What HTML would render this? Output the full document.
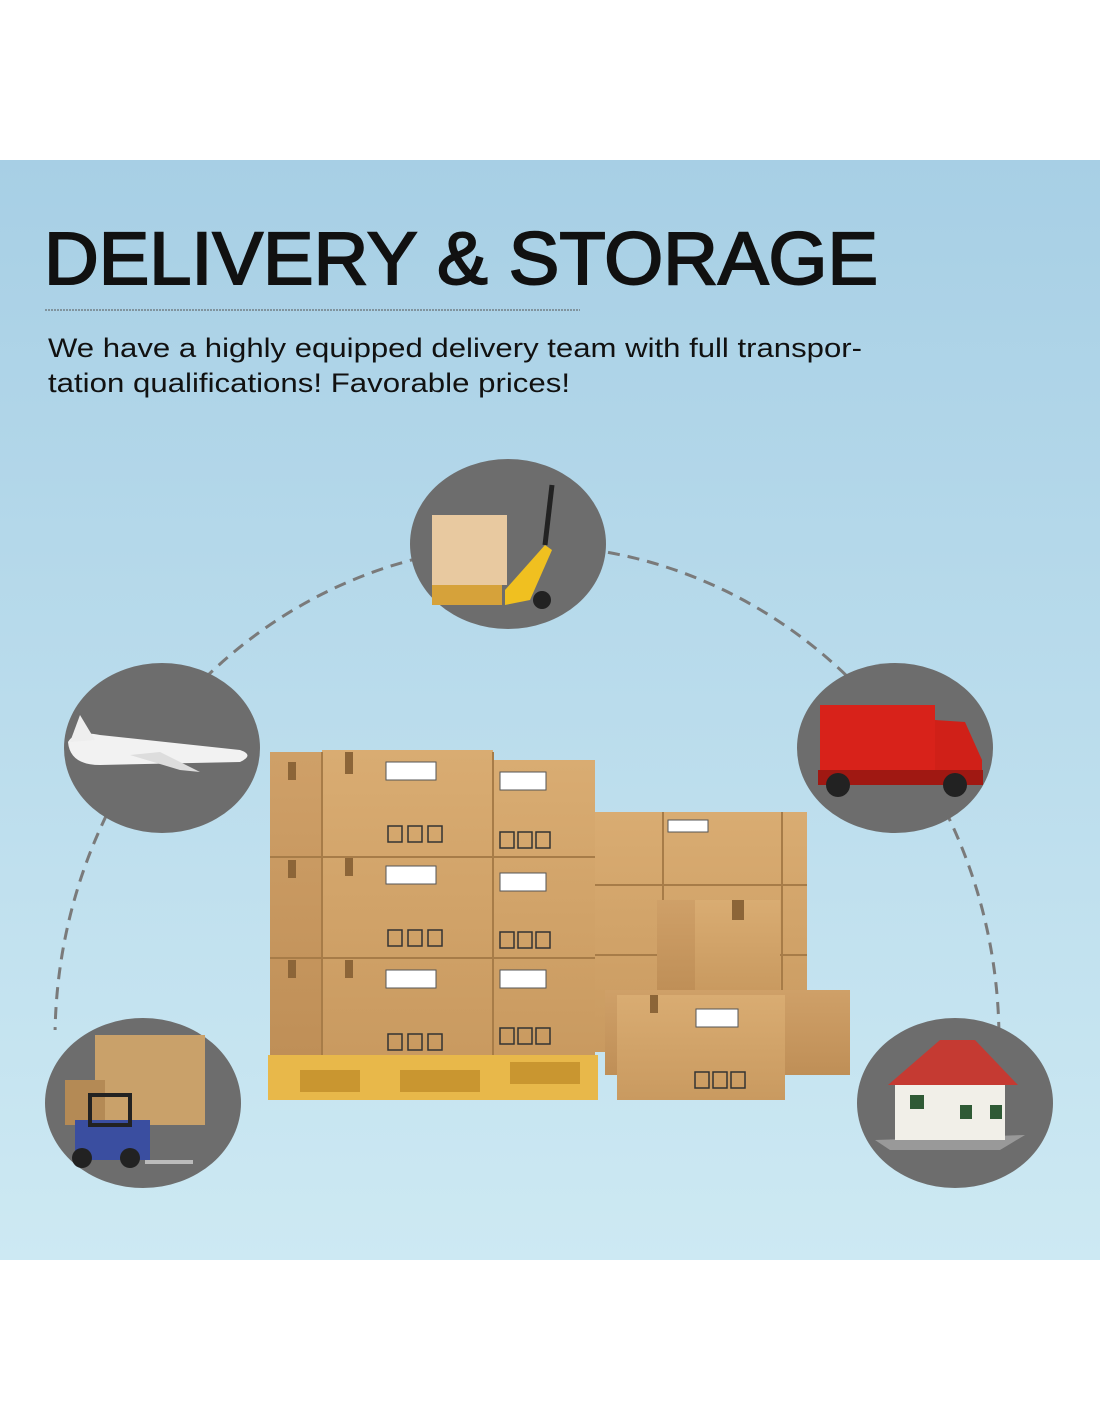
<!DOCTYPE html>
<html><head><meta charset="utf-8"><style>
html,body{margin:0;padding:0;width:1100px;height:1422px;background:#fff;overflow:hidden}
svg{display:block}
</style></head><body>
<svg width="1100" height="1422" viewBox="0 0 1100 1422" xmlns="http://www.w3.org/2000/svg">
<defs>
<linearGradient id="bg" x1="0" y1="0" x2="0" y2="1">
<stop offset="0" stop-color="#a7cfe5"/><stop offset="1" stop-color="#cde9f3"/>
</linearGradient>
<linearGradient id="box" x1="0" y1="0" x2="0" y2="1">
<stop offset="0" stop-color="#d9ac72"/><stop offset="1" stop-color="#c99a60"/>
</linearGradient>
<linearGradient id="side" x1="0" y1="0" x2="0" y2="1">
<stop offset="0" stop-color="#cfa068"/><stop offset="1" stop-color="#bf8f57"/>
</linearGradient>
<clipPath id="top"><rect x="0" y="0" width="1100" height="1030"/></clipPath>
</defs>
<rect x="0" y="160" width="1100" height="1100" fill="url(#bg)"/>
<text x="44" y="284" font-family="Liberation Sans, sans-serif" font-size="74" fill="#111" stroke="#111" stroke-width="2" textLength="834" lengthAdjust="spacingAndGlyphs">DELIVERY &amp; STORAGE</text>
<line x1="45" y1="310" x2="580" y2="310" stroke="#555" stroke-width="1" stroke-dasharray="2,1"/>
<text x="48" y="357" font-family="Liberation Sans, sans-serif" font-size="27" fill="#111" textLength="814" lengthAdjust="spacingAndGlyphs">We have a highly equipped delivery team with full transpor-</text>
<text x="48" y="392" font-family="Liberation Sans, sans-serif" font-size="27" fill="#111" textLength="522" lengthAdjust="spacingAndGlyphs">tation qualifications! Favorable prices!</text>
<ellipse cx="527" cy="1040" rx="472" ry="495" fill="none" stroke="#7a7a7a" stroke-width="3" stroke-dasharray="12,8" clip-path="url(#top)"/>
<g>
<rect x="595" y="812" width="212" height="240" fill="url(#box)"/>
<line x1="595" y1="885" x2="807" y2="885" stroke="#a77c48" stroke-width="2"/>
<line x1="595" y1="955" x2="807" y2="955" stroke="#a77c48" stroke-width="2"/>
<line x1="663" y1="812" x2="663" y2="1052" stroke="#a77c48" stroke-width="2"/>
<line x1="782" y1="812" x2="782" y2="1052" stroke="#a77c48" stroke-width="2"/>
<rect x="268" y="1055" width="330" height="45" fill="#e8b84a"/>
<rect x="300" y="1070" width="60" height="22" fill="#c99630"/>
<rect x="400" y="1070" width="80" height="22" fill="#c99630"/>
<rect x="510" y="1062" width="70" height="22" fill="#c99630"/>
<rect x="270" y="752" width="52" height="303" fill="url(#side)"/>
<rect x="322" y="750" width="171" height="305" fill="url(#box)"/>
<rect x="493" y="760" width="102" height="295" fill="url(#box)"/>
<g stroke="#a77c48" stroke-width="2">
<line x1="270" y1="857" x2="595" y2="857"/><line x1="270" y1="958" x2="595" y2="958"/>
<line x1="322" y1="752" x2="322" y2="1055"/><line x1="493" y1="752" x2="493" y2="1055"/>
</g>
<g fill="#fff" stroke="#555"><rect x="386" y="762" width="50" height="18"/><rect x="386" y="866" width="50" height="18"/><rect x="386" y="970" width="50" height="18"/>
<rect x="500" y="772" width="46" height="18"/><rect x="500" y="873" width="46" height="18"/><rect x="500" y="970" width="46" height="18"/>
<rect x="696" y="1009" width="42" height="18"/><rect x="668" y="820" width="40" height="12"/></g>
<g fill="#8c6538"><rect x="288" y="762" width="8" height="18"/><rect x="345" y="752" width="8" height="22"/><rect x="288" y="860" width="8" height="18"/><rect x="345" y="858" width="8" height="18"/><rect x="288" y="960" width="8" height="18"/><rect x="345" y="960" width="8" height="18"/></g>
<g fill="none" stroke="#333" stroke-width="1.5"><rect x="388" y="826" width="14" height="16"/><rect x="408" y="826" width="14" height="16"/><rect x="428" y="826" width="14" height="16"/>
<rect x="388" y="930" width="14" height="16"/><rect x="408" y="930" width="14" height="16"/><rect x="428" y="930" width="14" height="16"/>
<rect x="388" y="1034" width="14" height="16"/><rect x="408" y="1034" width="14" height="16"/><rect x="428" y="1034" width="14" height="16"/>
<rect x="500" y="832" width="14" height="16"/><rect x="518" y="832" width="14" height="16"/><rect x="536" y="832" width="14" height="16"/>
<rect x="500" y="932" width="14" height="16"/><rect x="518" y="932" width="14" height="16"/><rect x="536" y="932" width="14" height="16"/>
<rect x="500" y="1028" width="14" height="16"/><rect x="518" y="1028" width="14" height="16"/><rect x="536" y="1028" width="14" height="16"/>
<rect x="695" y="1072" width="14" height="16"/><rect x="713" y="1072" width="14" height="16"/><rect x="731" y="1072" width="14" height="16"/></g>
<rect x="657" y="900" width="123" height="90" fill="url(#box)"/>
<rect x="657" y="900" width="38" height="90" fill="url(#side)"/>
<rect x="605" y="990" width="245" height="85" fill="url(#side)"/>
<rect x="617" y="995" width="168" height="105" fill="url(#box)"/>
<rect x="696" y="1009" width="42" height="18" fill="#fff" stroke="#555"/>
<g fill="none" stroke="#333" stroke-width="1.5"><rect x="695" y="1072" width="14" height="16"/><rect x="713" y="1072" width="14" height="16"/><rect x="731" y="1072" width="14" height="16"/></g>
<rect x="650" y="995" width="8" height="18" fill="#8c6538"/>
<rect x="732" y="900" width="12" height="20" fill="#8c6538"/>
</g>
<g fill="#6d6d6d">
<ellipse cx="508" cy="544" rx="98" ry="85"/>
<ellipse cx="162" cy="748" rx="98" ry="85"/>
<ellipse cx="895" cy="748" rx="98" ry="85"/>
<ellipse cx="143" cy="1103" rx="98" ry="85"/>
<ellipse cx="955" cy="1103" rx="98" ry="85"/>
</g>
<rect x="432" y="515" width="75" height="70" fill="#e8c9a0"/>
<rect x="432" y="585" width="70" height="20" fill="#d6a23a"/>
<polygon points="505,590 545,545 552,550 530,600 505,605" fill="#f0c020"/>
<line x1="545" y1="545" x2="552" y2="485" stroke="#222" stroke-width="5"/>
<circle cx="542" cy="600" r="9" fill="#222"/>
<path d="M68,742 Q75,730 100,735 L240,750 Q255,755 240,762 L100,765 Q70,765 68,742Z" fill="#f2f2f2"/>
<polygon points="70,742 80,715 95,740" fill="#eee"/>
<polygon points="130,755 180,770 200,772 160,752" fill="#ddd"/>
<rect x="820" y="705" width="115" height="70" fill="#d8221a"/>
<polygon points="935,720 965,722 982,760 982,785 935,785" fill="#d02018"/>
<rect x="818" y="770" width="165" height="15" fill="#a01812"/>
<circle cx="838" cy="785" r="12" fill="#222"/><circle cx="955" cy="785" r="12" fill="#222"/>
<rect x="95" y="1035" width="110" height="90" fill="#c9a16a"/>
<rect x="65" y="1080" width="40" height="45" fill="#b48a55"/>
<rect x="75" y="1120" width="75" height="40" fill="#3a4ea0"/>
<rect x="90" y="1095" width="40" height="30" fill="none" stroke="#222" stroke-width="4"/>
<circle cx="82" cy="1158" r="10" fill="#222"/><circle cx="130" cy="1158" r="10" fill="#222"/>
<rect x="145" y="1160" width="48" height="4" fill="#bbb"/>
<polygon points="875,1140 1025,1135 1000,1150 890,1150" fill="#999"/>
<rect x="895" y="1085" width="110" height="55" fill="#f1efe8"/>
<polygon points="888,1085 940,1040 975,1040 1018,1085" fill="#c53a32"/>
<g fill="#2f5a35"><rect x="910" y="1095" width="14" height="14"/><rect x="960" y="1105" width="12" height="14"/><rect x="990" y="1105" width="12" height="14"/></g>
</svg>
</body></html>
